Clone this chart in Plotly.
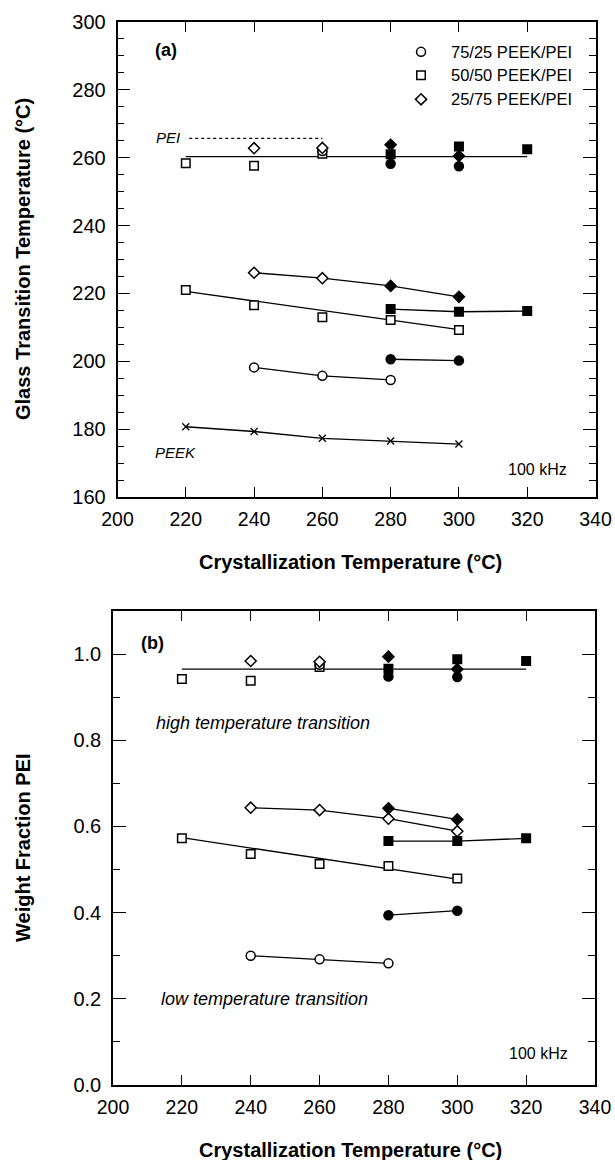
import plotly.graph_objects as go

# ---------------- Panel (a): Glass transition temperature ----------------
a_peek_x = [220, 240, 260, 280, 300]
a_peek_y = [180.7, 179.3, 177.3, 176.5, 175.6]

a_c75_open_low_x = [240, 260, 280]
a_c75_open_low_y = [198.2, 195.7, 194.5]
a_c75_fill_low_x = [280, 300]
a_c75_fill_low_y = [200.6, 200.2]
a_s50_open_low_x = [220, 240, 260, 280, 300]
a_s50_open_low_y = [221.0, 216.5, 213.0, 212.2, 209.2]
a_s50_fill_low_x = [280, 300, 320]
a_s50_fill_low_y = [215.4, 214.6, 214.8]
a_d25_open_low_x = [240, 260]
a_d25_open_low_y = [226.1, 224.5]
a_d25_fill_low_x = [280, 300]
a_d25_fill_low_y = [222.2, 219.0]

a_s50_open_high_x = [220, 240, 260]
a_s50_open_high_y = [258.4, 257.6, 261.2]
a_d25_open_high_x = [240, 260]
a_d25_open_high_y = [262.8, 262.9]
a_c75_open_high_x = [260]
a_c75_open_high_y = [262.0]
a_d25_fill_high_x = [280, 300]
a_d25_fill_high_y = [263.8, 260.5]
a_s50_fill_high_x = [280, 300, 320]
a_s50_fill_high_y = [261.0, 263.3, 262.5]
a_c75_fill_high_x = [280, 300]
a_c75_fill_high_y = [258.2, 257.5]

a_fit_high_x = [220, 320]
a_fit_high_y = [260.3, 260.3]
a_fit_s50_x = [220, 300]
a_fit_s50_y = [220.6, 209.3]
a_pei_x = [221, 260]
a_pei_y = [265.7, 265.7]

# ---------------- Panel (b): Weight fraction PEI ----------------
b_c75_open_low_x = [240, 260, 280]
b_c75_open_low_y = [0.300, 0.2916, 0.2823]
b_c75_fill_low_x = [280, 300]
b_c75_fill_low_y = [0.394, 0.4045]
b_s50_open_low_x = [220, 240, 260, 280, 300]
b_s50_open_low_y = [0.5724, 0.536, 0.513, 0.508, 0.4795]
b_s50_fill_low_x = [280, 300, 320]
b_s50_fill_low_y = [0.566, 0.566, 0.5724]
b_d25_open_low_x = [240, 260, 280, 300]
b_d25_open_low_y = [0.6435, 0.638, 0.618, 0.589]
b_d25_fill_low_x = [280, 300]
b_d25_fill_low_y = [0.642, 0.6164]

b_s50_open_high_x = [220, 240, 260]
b_s50_open_high_y = [0.942, 0.938, 0.970]
b_d25_open_high_x = [240, 260]
b_d25_open_high_y = [0.984, 0.982]
b_c75_open_high_x = [260]
b_c75_open_high_y = [0.975]
b_d25_fill_high_x = [280, 300]
b_d25_fill_high_y = [0.994, 0.965]
b_s50_fill_high_x = [280, 300, 320]
b_s50_fill_high_y = [0.966, 0.988, 0.984]
b_c75_fill_high_x = [280, 300]
b_c75_fill_high_y = [0.948, 0.947]

b_fit_high_x = [220, 320]
b_fit_high_y = [0.965, 0.965]
b_fit_s50_x = [220, 300]
b_fit_s50_y = [0.574, 0.478]

legend_labels = ["75/25 PEEK/PEI", "50/50 PEEK/PEI", "25/75 PEEK/PEI"]
x_ticks = [200, 220, 240, 260, 280, 300, 320, 340]

FONT = "Liberation Sans, Arial, Helvetica, sans-serif"
W, H = 615, 1160

fig = go.Figure()

def line(x, y, xa, ya, dash="solid", width=1.3):
    fig.add_trace(go.Scatter(x=x, y=y, mode="lines", xaxis=xa, yaxis=ya,
                             line=dict(color="black", width=width, dash=dash),
                             showlegend=False, hoverinfo="skip"))

SYM = {"c": ("circle", 9), "s": ("square", 8.5), "d": ("diamond", 8.5)}

def pts(x, y, kind, filled, xa, ya):
    sym, size = SYM[kind]
    fig.add_trace(go.Scatter(
        x=x, y=y, mode="markers", xaxis=xa, yaxis=ya, showlegend=False,
        marker=dict(symbol=sym, size=size,
                    color="black" if filled else "white",
                    line=dict(color="black", width=1.5))))

# ---- Panel (a) lines ----
line(a_pei_x, a_pei_y, "x", "y", dash="dot", width=1.2)
line(a_fit_high_x, a_fit_high_y, "x", "y")
line(a_d25_open_low_x + a_d25_fill_low_x, a_d25_open_low_y + a_d25_fill_low_y, "x", "y")
line(a_fit_s50_x, a_fit_s50_y, "x", "y")
line(a_s50_fill_low_x, a_s50_fill_low_y, "x", "y")
line(a_c75_fill_low_x, a_c75_fill_low_y, "x", "y")
line(a_c75_open_low_x, a_c75_open_low_y, "x", "y")
fig.add_trace(go.Scatter(x=a_peek_x, y=a_peek_y, mode="lines+markers", xaxis="x", yaxis="y",
                         showlegend=False,
                         line=dict(color="black", width=1.3),
                         marker=dict(symbol="x-thin-open", size=7,
                                     line=dict(color="black", width=1.3))))
# ---- Panel (a) markers ----
pts(a_s50_open_high_x, a_s50_open_high_y, "s", False, "x", "y")
pts(a_c75_open_high_x, a_c75_open_high_y, "c", False, "x", "y")
pts(a_d25_open_high_x, a_d25_open_high_y, "d", False, "x", "y")
pts(a_c75_fill_high_x, a_c75_fill_high_y, "c", True, "x", "y")
pts(a_s50_fill_high_x, a_s50_fill_high_y, "s", True, "x", "y")
pts(a_d25_fill_high_x, a_d25_fill_high_y, "d", True, "x", "y")
pts(a_d25_open_low_x, a_d25_open_low_y, "d", False, "x", "y")
pts(a_d25_fill_low_x, a_d25_fill_low_y, "d", True, "x", "y")
pts(a_s50_open_low_x, a_s50_open_low_y, "s", False, "x", "y")
pts(a_s50_fill_low_x, a_s50_fill_low_y, "s", True, "x", "y")
pts(a_c75_open_low_x, a_c75_open_low_y, "c", False, "x", "y")
pts(a_c75_fill_low_x, a_c75_fill_low_y, "c", True, "x", "y")

# ---- Panel (b) lines ----
line(b_fit_high_x, b_fit_high_y, "x2", "y2")
line(b_d25_open_low_x, b_d25_open_low_y, "x2", "y2")
line(b_d25_fill_low_x, b_d25_fill_low_y, "x2", "y2")
line(b_s50_fill_low_x, b_s50_fill_low_y, "x2", "y2")
line(b_fit_s50_x, b_fit_s50_y, "x2", "y2")
line(b_c75_fill_low_x, b_c75_fill_low_y, "x2", "y2")
line(b_c75_open_low_x, b_c75_open_low_y, "x2", "y2")
# ---- Panel (b) markers ----
pts(b_s50_open_high_x, b_s50_open_high_y, "s", False, "x2", "y2")
pts(b_c75_open_high_x, b_c75_open_high_y, "c", False, "x2", "y2")
pts(b_d25_open_high_x, b_d25_open_high_y, "d", False, "x2", "y2")
pts(b_c75_fill_high_x, b_c75_fill_high_y, "c", True, "x2", "y2")
pts(b_d25_fill_high_x, b_d25_fill_high_y, "d", True, "x2", "y2")
pts(b_s50_fill_high_x, b_s50_fill_high_y, "s", True, "x2", "y2")
pts(b_d25_open_low_x, b_d25_open_low_y, "d", False, "x2", "y2")
pts(b_d25_fill_low_x, b_d25_fill_low_y, "d", True, "x2", "y2")
pts(b_s50_open_low_x, b_s50_open_low_y, "s", False, "x2", "y2")
pts(b_s50_fill_low_x, b_s50_fill_low_y, "s", True, "x2", "y2")
pts(b_c75_open_low_x, b_c75_open_low_y, "c", False, "x2", "y2")
pts(b_c75_fill_low_x, b_c75_fill_low_y, "c", True, "x2", "y2")

# ---- Legend (panel a) ----
leg_x = 288.9
leg_ys = [291.2, 284.3, 277.2]
for lab, kind, ly in zip(legend_labels, ["c", "s", "d"], leg_ys):
    pts([leg_x], [ly], kind, False, "x", "y")

annotations = []
for lab, ly in zip(legend_labels, leg_ys):
    annotations.append(dict(x=297.0, y=ly, xref="x", yref="y", text=lab, showarrow=False,
                            xanchor="left", yanchor="middle",
                            font=dict(family=FONT, size=16.5, color="black")))

def ann(x, y, xr, yr, text, size, italic=False, bold=False, xanchor="center", angle=0):
    t = text
    if bold:
        t = "<b>" + t + "</b>"
    if italic:
        t = "<i>" + t + "</i>"
    annotations.append(dict(x=x, y=y, xref=xr, yref=yr, text=t, showarrow=False,
                            xanchor=xanchor, yanchor="middle", textangle=angle,
                            font=dict(family=FONT, size=size, color="black")))

ann(214.3, 291.7, "x", "y", "(a)", 18, bold=True)
ann(214.7, 266.0, "x", "y", "PEI", 15, italic=True)
ann(216.9, 173.0, "x", "y", "PEEK", 15, italic=True)
ann(323.0, 168.0, "x", "y", "100 kHz", 16)

ann(211.4, 1.025, "x2", "y2", "(b)", 18, bold=True)
ann(243.5, 0.839, "x2", "y2", "high temperature transition", 18, italic=True)
ann(244.1, 0.199, "x2", "y2", "low temperature transition", 18, italic=True)
ann(323.7, 0.0735, "x2", "y2", "100 kHz", 16)

# axis titles (paper coords)
ann(351 / W, 1 - 562 / H, "paper", "paper", "Crystallization Temperature (°C)", 20, bold=True)
ann(351 / W, 1 - 1150 / H, "paper", "paper", "Crystallization Temperature (°C)", 20, bold=True)
ann(23 / W, 1 - 259 / H, "paper", "paper", "Glass Transition Temperature (°C)", 20, bold=True, angle=-90)
ann(23 / W, 1 - 848 / H, "paper", "paper", "Weight Fraction PEI", 20, bold=True, angle=-90)

axis_common = dict(showline=True, linecolor="black", linewidth=1.6, mirror="ticks",
                   ticks="inside", tickcolor="black", tickwidth=1.4,
                   showgrid=False, zeroline=False, automargin=False,
                   ticklabeloverflow="allow")
yfont = dict(family=FONT, size=20, color="black")
xfont = dict(family=FONT, size=19.5, color="black")

fig.update_layout(
    template="none",
    width=W, height=H,
    margin=dict(l=0, r=0, t=0, b=0, pad=0, autoexpand=False),
    paper_bgcolor="white", plot_bgcolor="white",
    showlegend=False,
    annotations=annotations,
    xaxis=dict(**axis_common, domain=[117.5 / W, 595.5 / W], range=[200, 340],
               tickvals=x_ticks, ticklen=10, anchor="y", ticklabelstandoff=4, tickfont=xfont),
    yaxis=dict(**axis_common, domain=[1 - 497 / H, 1 - 22 / H], range=[160, 300],
               dtick=20, ticklen=13, anchor="x", ticklabelstandoff=6, tickfont=yfont,
               minor=dict(dtick=5, ticks="inside", ticklen=7, tickcolor="black", tickwidth=1.3)),
    xaxis2=dict(**axis_common, domain=[113 / W, 595 / W], range=[200, 340],
                tickvals=x_ticks, ticklen=10, anchor="y2", ticklabelstandoff=4, tickfont=xfont),
    yaxis2=dict(**axis_common, domain=[1 - 1085 / H, 1 - 611 / H], range=[0, 1.1],
                tickvals=[0, 0.2, 0.4, 0.6, 0.8, 1.0], tickformat=".1f", ticklen=13,
                anchor="x2", ticklabelstandoff=6, tickfont=yfont,
                minor=dict(dtick=0.1, ticks="inside", ticklen=7, tickcolor="black", tickwidth=1.3)),
)

fig.write_html("out.html")
